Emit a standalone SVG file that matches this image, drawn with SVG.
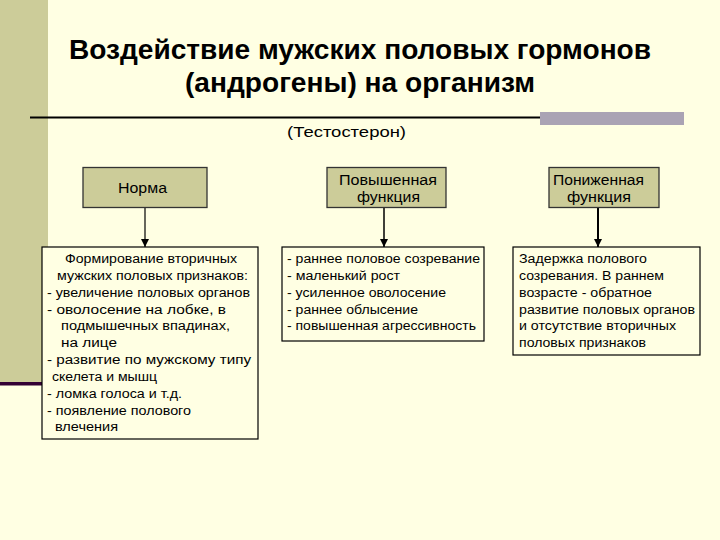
<svg xmlns="http://www.w3.org/2000/svg" width="720" height="540" viewBox="0 0 720 540">
<defs>
<style>
.t{font-family:"Liberation Sans",Arial,sans-serif;font-size:12.5px;fill:#000}
.h{font-family:"Liberation Sans",Arial,sans-serif;font-size:14px;fill:#000}
.title{font-family:"Liberation Sans",Arial,sans-serif;font-size:27px;font-weight:bold;fill:#000}
.kb{fill:#CCCC99;stroke:#333;stroke-width:1.3}
.tb{fill:#FFFFE3;stroke:#000;stroke-width:1.2}
.c{stroke:#000;fill:none}
</style>
<marker id="ah" viewBox="0 0 8 8" refX="8" refY="4" markerWidth="8" markerHeight="8" markerUnits="userSpaceOnUse" orient="auto">
<path d="M0,0 L8,4 L0,8 z" fill="#000"/>
</marker>
</defs>
<rect x="0" y="0" width="720" height="540" fill="#FFFFE3"/>
<rect x="0" y="0" width="48" height="384" fill="#CCCC99"/>
<rect x="0" y="382" width="48" height="3.5" fill="#330033"/>
<line x1="30" y1="117.5" x2="684" y2="117.5" stroke="#000" stroke-width="2"/>
<rect x="540" y="112" width="144" height="13" fill="#AAA3B4"/>
<g id="title">
<text class="title" x="360" y="59" text-anchor="middle" textLength="582" lengthAdjust="spacingAndGlyphs">Воздействие мужских половых гормонов</text>
<text class="title" x="360" y="92" text-anchor="middle" textLength="350" lengthAdjust="spacingAndGlyphs">(андрогены) на организм</text>
<text class="h" x="346.5" y="137" text-anchor="middle" textLength="119" lengthAdjust="spacingAndGlyphs">(Тестостерон)</text>
</g>
<g id="connectors">
<line class="c" x1="145" y1="207" x2="145" y2="247" stroke-width="1.2" marker-end="url(#ah)"/>
<line class="c" x1="384" y1="207" x2="384" y2="247" stroke-width="1.5" marker-end="url(#ah)"/>
<line class="c" x1="598" y1="207" x2="598" y2="247" stroke-width="2" marker-end="url(#ah)"/>
</g>
<g id="norma">
<rect class="kb" x="83" y="167.5" width="124" height="40"/>
<text class="h" x="142.5" y="193" text-anchor="middle" textLength="49" lengthAdjust="spacingAndGlyphs">Норма</text>
</g>
<g id="povysh">
<rect class="kb" x="327" y="167.5" width="119" height="40"/>
<text class="h" x="388" y="185" text-anchor="middle" textLength="98" lengthAdjust="spacingAndGlyphs">Повышенная</text>
<text class="h" x="388.5" y="202" text-anchor="middle" textLength="63" lengthAdjust="spacingAndGlyphs">функция</text>
</g>
<g id="ponizh">
<rect class="kb" x="549" y="167.5" width="110" height="40"/>
<text class="h" x="598.5" y="185" text-anchor="middle" textLength="91" lengthAdjust="spacingAndGlyphs">Пониженная</text>
<text class="h" x="599" y="202" text-anchor="middle" textLength="64" lengthAdjust="spacingAndGlyphs">функция</text>
</g>
<g id="norma-text">
<rect class="tb" x="42" y="247" width="216" height="192"/>
<text class="t" x="65" y="263" textLength="172" lengthAdjust="spacingAndGlyphs">Формирование вторичных</text>
<text class="t" x="57" y="280" textLength="191" lengthAdjust="spacingAndGlyphs">мужских половых признаков:</text>
<text class="t" x="47" y="297" textLength="203" lengthAdjust="spacingAndGlyphs">- увеличение половых органов</text>
<text class="t" x="47" y="314" textLength="179" lengthAdjust="spacingAndGlyphs">- оволосение на лобке, в</text>
<text class="t" x="61" y="330" textLength="169" lengthAdjust="spacingAndGlyphs">подмышечных  впадинах,</text>
<text class="t" x="61" y="347" textLength="56" lengthAdjust="spacingAndGlyphs">на  лице</text>
<text class="t" x="47" y="364" textLength="204" lengthAdjust="spacingAndGlyphs">- развитие по мужскому типу</text>
<text class="t" x="52" y="381" textLength="105" lengthAdjust="spacingAndGlyphs">скелета и мышц</text>
<text class="t" x="47" y="398" textLength="135" lengthAdjust="spacingAndGlyphs">- ломка голоса и т.д.</text>
<text class="t" x="47" y="415" textLength="144" lengthAdjust="spacingAndGlyphs">- появление полового</text>
<text class="t" x="55" y="431" textLength="63" lengthAdjust="spacingAndGlyphs">влечения</text>
</g>
<g id="povysh-text">
<rect class="tb" x="282" y="247" width="202" height="94"/>
<text class="t" x="287" y="263" textLength="193" lengthAdjust="spacingAndGlyphs">- раннее половое созревание</text>
<text class="t" x="287" y="280" textLength="113" lengthAdjust="spacingAndGlyphs">- маленький рост</text>
<text class="t" x="287" y="297" textLength="159" lengthAdjust="spacingAndGlyphs">- усиленное оволосение</text>
<text class="t" x="287" y="314" textLength="131" lengthAdjust="spacingAndGlyphs">- раннее облысение</text>
<text class="t" x="287" y="330" textLength="189" lengthAdjust="spacingAndGlyphs">- повышенная агрессивность</text>
</g>
<g id="ponizh-text">
<rect class="tb" x="513" y="247" width="187" height="108"/>
<text class="t" x="519" y="263" textLength="128" lengthAdjust="spacingAndGlyphs">Задержка полового</text>
<text class="t" x="519" y="280" textLength="145" lengthAdjust="spacingAndGlyphs">созревания. В раннем</text>
<text class="t" x="519" y="297" textLength="133" lengthAdjust="spacingAndGlyphs">возрасте - обратное</text>
<text class="t" x="519" y="314" textLength="176" lengthAdjust="spacingAndGlyphs">развитие половых органов</text>
<text class="t" x="519" y="330" textLength="157" lengthAdjust="spacingAndGlyphs">и отсутствие вторичных</text>
<text class="t" x="519" y="347" textLength="127" lengthAdjust="spacingAndGlyphs">половых признаков</text>
</g>
</svg>
